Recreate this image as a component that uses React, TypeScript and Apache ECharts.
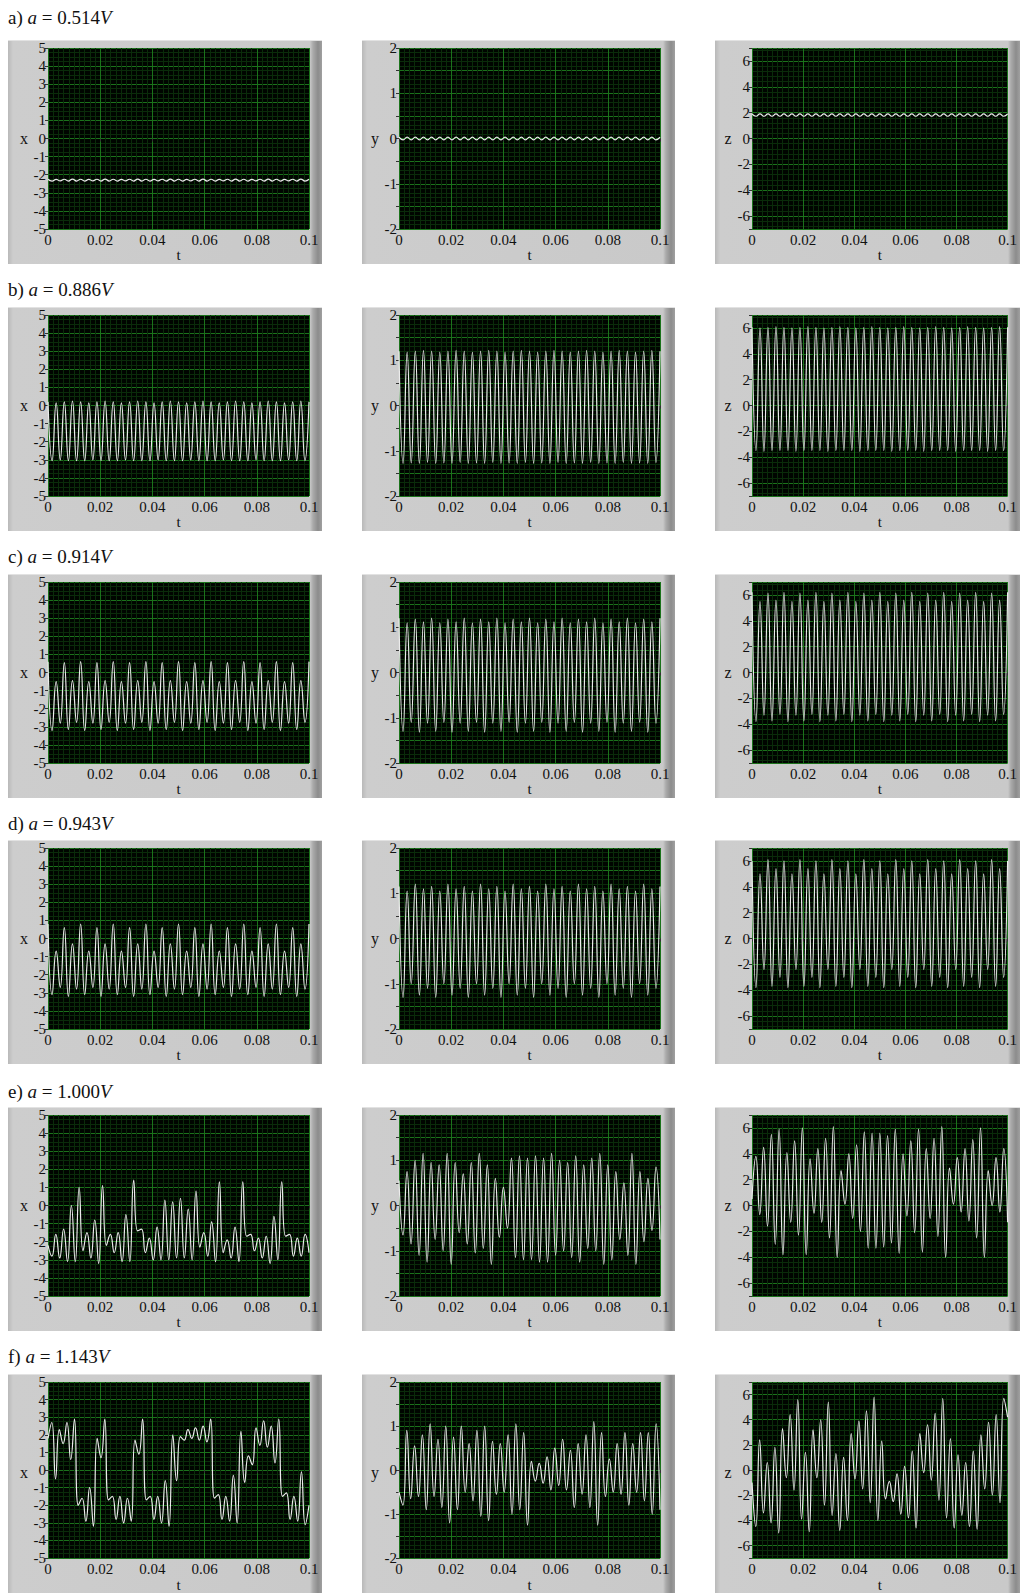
import React, { useEffect, useRef } from 'react';
import * as echarts from 'echarts';

// ---------- text ----------
const rowLetters = ['a', 'b', 'c', 'd', 'e', 'f'];
const rowVoltages = ['0.514', '0.886', '0.914', '0.943', '1.000', '1.143'];
const varNames = ['x', 'y', 'z'];
const tName = 't';

// ---------- data: successive extrema of each waveform over t = 0 … 0.1 ----------
const aX = [
  -2.25, -2.35, -2.26, -2.34, -2.25, -2.35, -2.24, -2.35, -2.25, -2.35, -2.26, -2.34, -2.25, -2.35, -2.24, -2.35,
  -2.25, -2.35, -2.26, -2.34, -2.25, -2.35, -2.24, -2.35, -2.25, -2.35, -2.26, -2.34, -2.25, -2.35, -2.24, -2.35,
  -2.25, -2.35, -2.26, -2.34, -2.25, -2.35, -2.24, -2.35, -2.25, -2.35, -2.26, -2.34, -2.25, -2.35, -2.24, -2.35,
  -2.25, -2.35, -2.26, -2.34, -2.25, -2.35, -2.24, -2.35, -2.25, -2.35, -2.26, -2.34, -2.25, -2.35, -2.24, -2.35,
  -2.25,
];
const aY = [
  0.03, -0.03, 0.03, -0.03, 0.03, -0.03, 0.03, -0.03, 0.03, -0.03, 0.03, -0.03, 0.03, -0.03, 0.03, -0.03,
  0.03, -0.03, 0.03, -0.03, 0.03, -0.03, 0.03, -0.03, 0.03, -0.03, 0.03, -0.03, 0.03, -0.03, 0.03, -0.03,
  0.03, -0.03, 0.03, -0.03, 0.03, -0.03, 0.03, -0.03, 0.03, -0.03, 0.03, -0.03, 0.03, -0.03, 0.03, -0.03,
  0.03, -0.03, 0.03, -0.03, 0.03, -0.03, 0.03, -0.03, 0.03, -0.03, 0.03, -0.03, 0.03, -0.03, 0.03, -0.03,
  0.03,
];
const aZ = [
  1.9, 1.72, 1.9, 1.72, 1.9, 1.72, 1.9, 1.72, 1.9, 1.72, 1.9, 1.72, 1.9, 1.72, 1.9, 1.72,
  1.9, 1.72, 1.9, 1.72, 1.9, 1.72, 1.9, 1.72, 1.9, 1.72, 1.9, 1.72, 1.9, 1.72, 1.9, 1.72,
  1.9, 1.72, 1.9, 1.72, 1.9, 1.72, 1.9, 1.72, 1.9, 1.72, 1.9, 1.72, 1.9, 1.72, 1.9, 1.72,
  1.9, 1.72, 1.9, 1.72, 1.9, 1.72, 1.9, 1.72, 1.9, 1.72, 1.9, 1.72, 1.9, 1.72, 1.9, 1.72,
  1.9,
];
const bX = [
  0.2, -3.05, 0.15, -3.0, 0.2, -3.05, 0.25, -3.05, 0.2, -3.05, 0.15, -3.0, 0.2, -3.05, 0.25, -3.05,
  0.2, -3.05, 0.15, -3.0, 0.2, -3.05, 0.25, -3.05, 0.2, -3.05, 0.15, -3.0, 0.2, -3.05, 0.25, -3.05,
  0.2, -3.05, 0.15, -3.0, 0.2, -3.05, 0.25, -3.05, 0.2, -3.05, 0.15, -3.0, 0.2, -3.05, 0.25, -3.05,
  0.2, -3.05, 0.15, -3.0, 0.2, -3.05, 0.25, -3.05, 0.2, -3.05, 0.15, -3.0, 0.2, -3.05, 0.25, -3.05,
  0.2,
];
const bY = [
  1.2, -1.28, 1.18, -1.27, 1.2, -1.28, 1.22, -1.26, 1.2, -1.28, 1.18, -1.27, 1.2, -1.28, 1.22, -1.26,
  1.2, -1.28, 1.18, -1.27, 1.2, -1.28, 1.22, -1.26, 1.2, -1.28, 1.18, -1.27, 1.2, -1.28, 1.22, -1.26,
  1.2, -1.28, 1.18, -1.27, 1.2, -1.28, 1.22, -1.26, 1.2, -1.28, 1.18, -1.27, 1.2, -1.28, 1.22, -1.26,
  1.2, -1.28, 1.18, -1.27, 1.2, -1.28, 1.22, -1.26, 1.2, -1.28, 1.18, -1.27, 1.2, -1.28, 1.22, -1.26,
  1.2,
];
const bZ = [
  6.05, -3.5, 6.0, -3.55, 6.05, -3.5, 6.1, -3.5, 6.05, -3.5, 6.0, -3.55, 6.05, -3.5, 6.1, -3.5,
  6.05, -3.5, 6.0, -3.55, 6.05, -3.5, 6.1, -3.5, 6.05, -3.5, 6.0, -3.55, 6.05, -3.5, 6.1, -3.5,
  6.05, -3.5, 6.0, -3.55, 6.05, -3.5, 6.1, -3.5, 6.05, -3.5, 6.0, -3.55, 6.05, -3.5, 6.1, -3.5,
  6.05, -3.5, 6.0, -3.55, 6.05, -3.5, 6.1, -3.5, 6.05, -3.5, 6.0, -3.55, 6.05, -3.5, 6.1, -3.5,
  6.05,
];
const cX = [
  0.6, -3.2, -0.5, -2.8, 0.55, -3.15, -0.45, -2.75, 0.6, -3.2, -0.5, -2.8, 0.55, -3.15, -0.45, -2.75,
  0.6, -3.2, -0.5, -2.8, 0.55, -3.15, -0.45, -2.75, 0.6, -3.2, -0.5, -2.8, 0.55, -3.15, -0.45, -2.75,
  0.6, -3.2, -0.5, -2.8, 0.55, -3.15, -0.45, -2.75, 0.6, -3.2, -0.5, -2.8, 0.55, -3.15, -0.45, -2.75,
  0.6, -3.2, -0.5, -2.8, 0.55, -3.15, -0.45, -2.75, 0.6, -3.2, -0.5, -2.8, 0.55, -3.15, -0.45, -2.75,
  0.6,
];
const cY = [
  1.2, -1.3, 1.1, -1.1, 1.18, -1.32, 1.12, -1.12, 1.2, -1.3, 1.1, -1.1, 1.18, -1.32, 1.12, -1.12,
  1.2, -1.3, 1.1, -1.1, 1.18, -1.32, 1.12, -1.12, 1.2, -1.3, 1.1, -1.1, 1.18, -1.32, 1.12, -1.12,
  1.2, -1.3, 1.1, -1.1, 1.18, -1.32, 1.12, -1.12, 1.2, -1.3, 1.1, -1.1, 1.18, -1.32, 1.12, -1.12,
  1.2, -1.3, 1.1, -1.1, 1.18, -1.32, 1.12, -1.12, 1.2, -1.3, 1.1, -1.1, 1.18, -1.32, 1.12, -1.12,
  1.2,
];
const cZ = [
  6.2, -3.8, 5.5, -3.3, 6.15, -3.75, 5.6, -3.25, 6.2, -3.8, 5.5, -3.3, 6.15, -3.75, 5.6, -3.25,
  6.2, -3.8, 5.5, -3.3, 6.15, -3.75, 5.6, -3.25, 6.2, -3.8, 5.5, -3.3, 6.15, -3.75, 5.6, -3.25,
  6.2, -3.8, 5.5, -3.3, 6.15, -3.75, 5.6, -3.25, 6.2, -3.8, 5.5, -3.3, 6.15, -3.75, 5.6, -3.25,
  6.2, -3.8, 5.5, -3.3, 6.15, -3.75, 5.6, -3.25, 6.2, -3.8, 5.5, -3.3, 6.15, -3.75, 5.6, -3.25,
  6.2,
];
const dX = [
  0.8, -3.1, -0.7, -2.7, 0.6, -3.2, -0.3, -2.8, 0.8, -3.1, -0.7, -2.7, 0.6, -3.2, -0.3, -2.8,
  0.8, -3.1, -0.7, -2.7, 0.6, -3.2, -0.3, -2.8, 0.8, -3.1, -0.7, -2.7, 0.6, -3.2, -0.3, -2.8,
  0.8, -3.1, -0.7, -2.7, 0.6, -3.2, -0.3, -2.8, 0.8, -3.1, -0.7, -2.7, 0.6, -3.2, -0.3, -2.8,
  0.8, -3.1, -0.7, -2.7, 0.6, -3.2, -0.3, -2.8, 0.8, -3.1, -0.7, -2.7, 0.6, -3.2, -0.3, -2.8,
  0.8,
];
const dY = [
  1.15, -1.3, 1.05, -1.0, 1.2, -1.25, 1.1, -1.1, 1.15, -1.3, 1.05, -1.0, 1.2, -1.25, 1.1, -1.1,
  1.15, -1.3, 1.05, -1.0, 1.2, -1.25, 1.1, -1.1, 1.15, -1.3, 1.05, -1.0, 1.2, -1.25, 1.1, -1.1,
  1.15, -1.3, 1.05, -1.0, 1.2, -1.25, 1.1, -1.1, 1.15, -1.3, 1.05, -1.0, 1.2, -1.25, 1.1, -1.1,
  1.15, -1.3, 1.05, -1.0, 1.2, -1.25, 1.1, -1.1, 1.15, -1.3, 1.05, -1.0, 1.2, -1.25, 1.1, -1.1,
  1.15,
];
const dZ = [
  6.0, -3.8, 5.0, -2.4, 6.1, -3.7, 5.4, -3.0, 6.0, -3.8, 5.0, -2.4, 6.1, -3.7, 5.4, -3.0,
  6.0, -3.8, 5.0, -2.4, 6.1, -3.7, 5.4, -3.0, 6.0, -3.8, 5.0, -2.4, 6.1, -3.7, 5.4, -3.0,
  6.0, -3.8, 5.0, -2.4, 6.1, -3.7, 5.4, -3.0, 6.0, -3.8, 5.0, -2.4, 6.1, -3.7, 5.4, -3.0,
  6.0, -3.8, 5.0, -2.4, 6.1, -3.7, 5.4, -3.0, 6.0, -3.8, 5.0, -2.4, 6.1, -3.7, 5.4, -3.0,
  6.0,
];
const eX = [
  -2.2, -2.8, -1.6, -2.9, -1.3, -3.1, 0.0, -3.1, 1.0, -2.5, -1.5, -2.9, -0.8, -3.2, 1.1, -2.2,
  -1.6, -2.6, -1.5, -3.1, -0.5, -3.1, 1.4, -1.4, -1.3, -2.6, -1.8, -3.0, -1.2, -3.0, 0.3, -3.0,
  0.2, -2.9, 0.4, -2.9, -0.2, -3.0, 0.8, -2.3, -1.5, -2.8, -0.9, -3.1, 1.3, -2.6, -1.9, -2.9,
  -1.2, -3.1, 1.3, -1.7, -1.6, -2.5, -1.8, -2.9, -1.7, -3.2, -0.6, -3.0, 1.3, -1.7, -1.6, -2.8,
  -1.8, -2.8, -1.6, -2.6,
];
const eY = [
  0.55, -0.65, 0.75, -0.85, 1.0, -1.1, 1.15, -1.25, 0.95, -0.75, 0.9, -1.0, 1.15, -1.3, 0.95, -0.6,
  0.7, -0.85, 0.95, -1.05, 1.15, -0.95, 0.9, -1.3, 0.6, -0.7, 0.4, -0.5, 1.05, -1.15, 1.1, -1.2,
  1.05, -1.2, 1.1, -1.25, 1.05, -1.25, 1.15, -1.1, 1.0, -1.0, 0.95, -1.15, 1.1, -1.25, 0.9, -0.95,
  1.05, -1.0, 1.15, -1.3, 0.9, -1.2, 0.75, -0.75, 0.5, -1.1, 1.15, -1.3, 0.75, -0.8, 0.6, -0.55,
  0.85, -0.75,
];
const eZ = [
  0.5, 3.8, -0.7, 4.5, -1.6, 5.5, -3.0, 5.9, -3.8, 4.1, -1.3, 5.0, -2.3, 6.0, -3.8, 3.6,
  -0.6, 4.4, -1.3, 5.2, -2.5, 6.1, -4.0, 2.7, 0.1, 4.0, -1.0, 4.7, -2.0, 5.7, -3.3, 5.6,
  -3.3, 5.6, -3.2, 5.4, -2.9, 5.9, -3.7, 4.0, -0.8, 5.0, -2.1, 5.9, -3.6, 4.4, -1.0, 5.2,
  -2.4, 6.1, -4.0, 2.9, 0.1, 3.7, -0.5, 4.4, -1.2, 5.1, -2.5, 6.0, -4.0, 2.7, 0.0, 3.7,
  -0.5, 4.4, -1.3,
];
const fX = [
  1.8, 2.7, -0.5, 2.3, 1.5, 2.7, 0.6, 2.9, -2.0, -1.6, -2.9, -1.0, -3.2, 1.8, 0.7, 2.9,
  -1.7, -1.5, -2.8, -1.5, -3.0, -1.6, -2.9, 1.7, 0.9, 2.9, -1.7, -1.5, -2.8, -1.5, -3.0, -0.6,
  -3.2, 2.0, -0.6, 1.9, 1.7, 2.3, 1.8, 2.4, 1.7, 2.5, 1.6, 2.9, -1.6, -1.4, -2.8, -1.5,
  -2.9, -0.3, -3.0, 2.2, -0.7, 0.8, 0.3, 2.4, 1.4, 2.8, 1.3, 2.5, 0.4, 2.9, -1.5, -1.3,
  -2.8, -1.5, -2.9, -0.1, -3.1, -2.0,
];
const fY = [
  -0.5, -0.8, 0.9, -0.65, 0.55, -0.6, 0.8, -0.9, 1.05, -0.6, 0.7, -0.85, 1.0, -1.2, 0.75, -0.9,
  1.0, -0.5, 0.6, -0.7, 0.9, -1.05, 1.0, -1.15, 0.65, -0.55, 0.6, -0.5, 0.8, -1.0, 1.05, -0.9,
  0.85, -1.25, 0.2, -0.25, 0.15, -0.3, 0.3, -0.45, 0.5, -0.35, 0.7, -0.45, 0.45, -0.85, 0.6, -0.55,
  0.8, -0.85, 1.1, -1.25, 0.85, -0.6, 0.25, -0.5, 0.6, -0.55, 0.85, -0.8, 0.6, -0.5, 0.85, -0.7,
  0.85, -1.0, 1.05, -0.9,
];
const fZ = [
  -1.0, -4.5, 2.4, -3.4, 0.6, -4.2, 1.8, -5.0, 3.3, -0.6, 4.4, -1.6, 5.6, -3.9, 1.4, -4.9,
  3.2, -0.6, 4.0, -2.8, 5.4, -3.6, 1.3, -4.8, 1.0, -4.0, 2.9, -0.7, 3.9, -1.5, 4.7, -2.6,
  5.8, -4.0, 2.3, -2.3, -0.9, -2.5, -0.3, -3.5, 0.3, -3.8, 1.5, -4.6, 2.9, -0.2, 3.6, -0.8,
  4.5, -2.4, 5.7, -3.8, 2.5, -4.6, 1.2, -3.6, 0.6, -4.5, 1.5, -4.7, 2.8, -1.5, 3.8, -2.0,
  4.4, -2.6, 5.7, 4.2,
];

const panelData = [
  [aX, aY, aZ],
  [bX, bY, bZ],
  [cX, cY, cZ],
  [dX, dY, dZ],
  [eX, eY, eZ],
  [fX, fY, fZ],
];

const T_MAX = 0.1;

// ---------- layout ----------
const PAGE_W = 1020;
const PAGE_H = 1593;
const colPlot = [
  { left: 48, right: 309 },
  { left: 399, right: 660 },
  { left: 752, right: 1010 },
];
const colFrame = [
  { left: 8, right: 322 },
  { left: 362, right: 675 },
  { left: 715, right: 1020 },
];
const rowTop = [48, 315, 582, 848, 1115, 1382];
const PLOT_H = 181;
const rowLabelY = [17, 289, 556, 823, 1091, 1356];

const SERIF = 'Liberation Serif';
const MAJOR = '#1b721b';
const MINOR = '#0a2c0a';

function yAxisFor(col: number, gridIndex: number) {
  const common: any = {
    type: 'value',
    gridIndex,
    axisLine: { show: false },
    axisTick: { show: true, length: 3, lineStyle: { color: '#333', width: 1 } },
    axisLabel: { fontFamily: SERIF, fontSize: 15, color: '#111', margin: 2 },
    splitLine: { show: true, lineStyle: { color: MAJOR, width: 1 } },
    minorTick: { show: false, splitNumber: 4 },
    minorSplitLine: { show: true, lineStyle: { color: MINOR, width: 1 } },
  };
  if (col === 0) {
    return { ...common, min: -5, max: 5, interval: 1 };
  }
  if (col === 1) {
    return {
      ...common,
      min: -2,
      max: 2,
      interval: 0.5,
      minorTick: { show: false, splitNumber: 5 },
      axisLabel: {
        ...common.axisLabel,
        formatter: (v: number) => (Number.isInteger(v) ? String(v) : ''),
      },
    };
  }
  return {
    ...common,
    min: -7,
    max: 7,
    splitNumber: 7,
    minorTick: { show: false, splitNumber: 5 },
    axisLabel: {
      ...common.axisLabel,
      formatter: (v: number) => (Math.abs(v) === 7 ? '' : String(v)),
    },
  };
}

function buildOption() {
  const grid: any[] = [];
  const xAxis: any[] = [];
  const yAxis: any[] = [];
  const series: any[] = [];
  const graphic: any[] = [];

  for (let r = 0; r < 6; r++) {
    graphic.push({
      type: 'text',
      x: 8,
      y: rowLabelY[r],
      style: {
        text: `{n|${rowLetters[r]}) }{i|a}{n| = ${rowVoltages[r]}}{i|V}`,
        verticalAlign: 'middle',
        rich: {
          n: { fontFamily: SERIF, fontSize: 19, fill: '#111', color: '#111' },
          i: { fontFamily: SERIF, fontSize: 19, fontStyle: 'italic', fill: '#111', color: '#111' },
        },
      },
    });
    for (let c = 0; c < 3; c++) {
      const idx = r * 3 + c;
      const cp = colPlot[c];
      grid.push({
        left: cp.left,
        top: rowTop[r],
        width: cp.right - cp.left,
        height: PLOT_H,
        show: true,
        backgroundColor: '#000500',
        borderWidth: 0,
      });
      xAxis.push({
        type: 'value',
        gridIndex: idx,
        min: 0,
        max: T_MAX,
        interval: 0.02,
        name: tName,
        nameLocation: 'middle',
        nameGap: 15,
        nameTextStyle: { fontFamily: SERIF, fontSize: 15, color: '#111' },
        axisLine: { show: false },
        axisTick: { show: true, length: 3, lineStyle: { color: '#333', width: 1 } },
        axisLabel: { fontFamily: SERIF, fontSize: 15, color: '#111', margin: 3 },
        splitLine: { show: true, lineStyle: { color: MAJOR, width: 1 } },
        minorTick: { show: false, splitNumber: 10 },
        minorSplitLine: { show: true, lineStyle: { color: MINOR, width: 1 } },
      });
      yAxis.push(yAxisFor(c, idx));
      const vals = panelData[r][c];
      const n = vals.length;
      series.push({
        type: 'line',
        xAxisIndex: idx,
        yAxisIndex: idx,
        data: vals.map((v, i) => [(i * T_MAX) / (n - 1), v]),
        showSymbol: false,
        symbol: 'none',
        smooth: 0.5,
        lineStyle: { color: '#ececec', width: 1.2 },
        silent: true,
        z: 5,
      });
      graphic.push({
        type: 'text',
        x: cp.left - 24,
        y: rowTop[r] + PLOT_H / 2,
        style: {
          text: varNames[c],
          fontFamily: SERIF,
          fontSize: 16,
          fill: '#111',
          textAlign: 'center',
          verticalAlign: 'middle',
        },
      });
    }
  }

  return {
    animation: false,
    backgroundColor: 'transparent',
    grid,
    xAxis,
    yAxis,
    series,
    graphic,
  };
}

function Frames() {
  const items: any[] = [];
  for (let r = 0; r < 6; r++) {
    for (let c = 0; c < 3; c++) {
      const f = colFrame[c];
      const top = rowTop[r] - 8;
      const h = PLOT_H + 43;
      items.push(
        <div
          key={`${r}-${c}`}
          style={{
            position: 'absolute',
            left: f.left,
            top,
            width: f.right - f.left,
            height: Math.min(h, PAGE_H - top),
            boxSizing: 'border-box',
            borderTop: '1px solid #e2e2e2',
            background:
              'linear-gradient(to right, #b9b9b9 0px, #cdcdcd 5px, #c9c9c9 calc(100% - 12px), #aaaaaa calc(100% - 9px), #8c8c8c calc(100% - 4px), #a0a0a0 100%)',
          }}
        />
      );
    }
  }
  return <>{items}</>;
}

export default function App() {
  const ref = useRef<HTMLDivElement>(null);
  useEffect(() => {
    document.body.style.margin = '0';
    document.body.style.background = '#ffffff';
    if (!ref.current) return;
    const chart = echarts.init(ref.current, undefined, { renderer: 'svg' });
    chart.setOption(buildOption() as any);
    return () => chart.dispose();
  }, []);
  return (
    <div style={{ position: 'relative', width: PAGE_W, height: PAGE_H, overflow: 'hidden', background: '#fff' }}>
      <Frames />
      <div ref={ref} style={{ position: 'absolute', left: 0, top: 0, width: PAGE_W, height: PAGE_H }} />
    </div>
  );
}
